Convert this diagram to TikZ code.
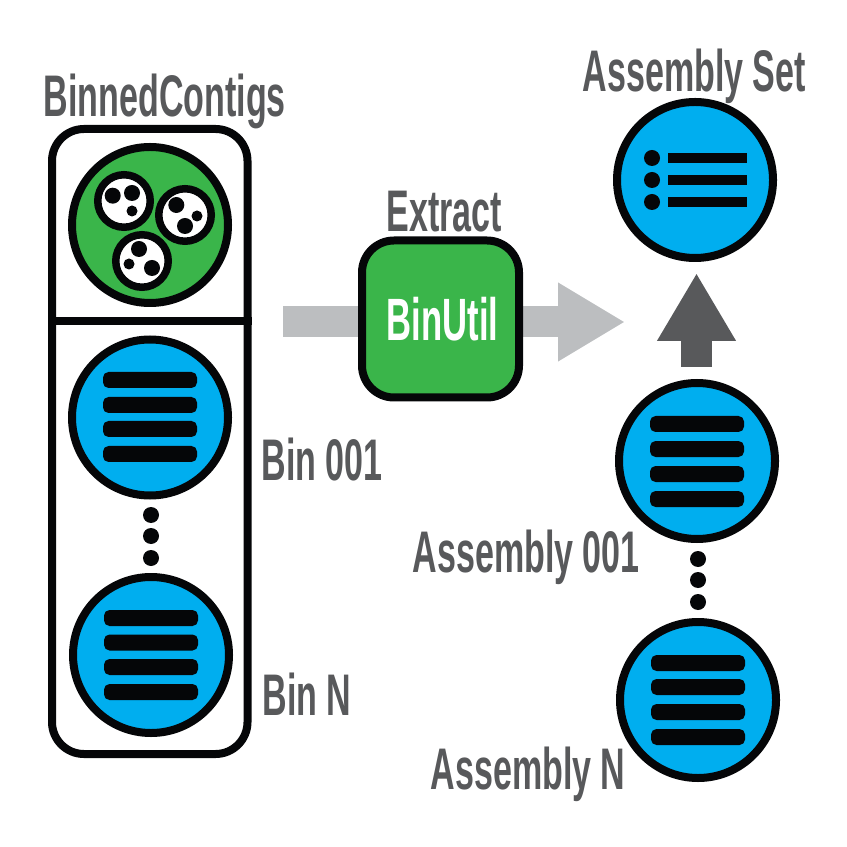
\documentclass[tikz,border=0pt]{standalone}
\usepackage{fontspec}
\setmainfont[FakeStretch=0.58]{Liberation Sans}
\usetikzlibrary{arrows.meta}
\definecolor{binnedgreen}{HTML}{3AB54A}
\definecolor{listblue}{HTML}{00AEEF}
\definecolor{labelgray}{HTML}{58595B}
\definecolor{flowgray}{HTML}{BCBEC0}
\definecolor{inkblack}{HTML}{050608}
\tikzstyle{reads}=[circle,draw=inkblack,fill=binnedgreen,line width=0.8mm,inner sep=0mm,minimum size=15.6mm]
\tikzstyle{contig}=[circle,draw=inkblack,fill=white,line width=0.75mm,inner sep=0mm,minimum size=5.25mm]
\tikzstyle{obj}=[circle,draw=inkblack,fill=listblue,line width=0.8mm,inner sep=0mm,minimum size=15.6mm]
\tikzstyle{bar}=[rectangle,fill=inkblack,rounded corners=0.55mm,inner sep=0mm,minimum width=9.4mm,minimum height=1.6mm]
\tikzstyle{setbar}=[rectangle,fill=inkblack,inner sep=0mm,minimum width=7.9mm,minimum height=1.07mm]
\tikzstyle{dot}=[circle,fill=inkblack,inner sep=0mm,minimum size=1.6mm]
\tikzstyle{method}=[rectangle,draw=inkblack,fill=binnedgreen,line width=0.8mm,rounded corners=3.2mm,inner sep=0mm,minimum size=15.7mm]
\tikzstyle{label}=[anchor=base west,inner sep=0mm,text=labelgray,font=\fontsize{16.7}{18}\selectfont\bfseries]
\tikzstyle{flow}=[-{Triangle[length=6.7mm,width=7.4mm]},line width=3.1mm,draw=flowgray,color=flowgray]
\tikzstyle{result}=[-{Triangle[length=6.8mm,width=7.4mm]},line width=3.1mm,draw=labelgray,color=labelgray]
\begin{document}
\begin{tikzpicture}
  \useasboundingbox (0,0) rectangle (8.47,-8.47);
  % labels
  \node[label] at (0.43,-1.17) (binned) {BinnedContigs};
  \node[label] at (5.82,-0.92) (set) {Assembly Set};
  \node[label] at (3.86,-2.32) (extract) {Extract};
  \node[label] at (2.61,-4.80) (bin1) {Bin 001};
  \node[label] at (2.62,-7.15) (binN) {Bin N};
  \node[label] at (4.12,-5.72) (asm1) {Assembly 001};
  \node[label] at (4.30,-7.89) (asmN) {Assembly N};
  % binned contigs panel
  \node[draw=inkblack,line width=0.8mm,rounded corners=3.2mm,rectangle,inner sep=0mm,minimum width=19.55mm,minimum height=62.5mm] at (1.4975,-4.415) (panel) {};
  \draw[draw=inkblack,line width=0.8mm] (panel.west |- 0,-3.207) coordinate (cutl) -- (panel.east |- 0,-3.207) coordinate (cutr);
  \node[reads] at (1.50,-2.25) (reads) {};
  \node[contig] at (1.24,-2.01) (c1) {};
  \node[contig] at (1.85,-2.15) (c2) {};
  \node[contig] at (1.42,-2.61) (c3) {};
  \foreach \n/\x/\y/\s in {a/1.127/1.957/1.6,b/1.32/1.93/1.6,c/1.32/2.11/1.1,
                           d/1.763/2.05/1.6,e/1.85/2.26/1.6,f/1.97/2.16/1.1,
                           g/1.39/2.49/1.6,h/1.52/2.68/1.6,i/1.29/2.64/1.1}
    \node[dot,minimum size=\s mm] at (\x,-\y) (spot\n) {};
  % bins
  \node[obj] at (1.50,-4.175) (binA) {};
  \foreach \y in {3.80,4.05,4.29,4.54}
    \node[bar] at (1.50,-\y) (binAbar\y) {};
  \foreach \y in {5.15,5.36,5.58}
    \node[dot] at (1.51,-\y) (bindot\y) {};
  \node[obj] at (1.51,-6.55) (binB) {};
  \foreach \y in {6.18,6.425,6.67,6.92}
    \node[bar] at (1.51,-\y) (binBbar\y) {};
  % flow through the app
  \coordinate (flowin) at (2.83,-3.22);
  \coordinate (flowout) at (6.25,-3.22);
  \draw[flow] (flowin) -- (flowout);
  \node[method] at (4.405,-3.19) (util) {};
  \node[anchor=base west,inner sep=0mm,text=white,font=\fontsize{17}{18}\selectfont\bfseries] at (3.86,-3.41) (utiltext) {BinUtil};
  % assembly set
  \node[obj] at (6.95,-1.80) (asmset) {};
  \foreach \y in {1.58,1.80,2.02} {
    \node[dot] at (6.52,-\y) (setdot\y) {};
    \node[setbar] at (7.075,-\y) (setbar\y) {};
  }
  % assemblies
  \node[obj] at (6.97,-4.61) (asmA) {};
  \foreach \y in {4.24,4.49,4.74,4.99}
    \node[bar] at (6.97,-\y) (asmAbar\y) {};
  \foreach \y in {5.59,5.80,6.02}
    \node[dot] at (6.98,-\y) (asmdot\y) {};
  \node[obj] at (6.98,-7.00) (asmB) {};
  \foreach \y in {6.63,6.87,7.12,7.37}
    \node[bar] at (6.98,-\y) (asmBbar\y) {};
  \coordinate (upfrom) at (6.965,-3.67);
  \coordinate (upto) at (6.965,-2.73);
  \draw[result] (upfrom) -- (upto);
\end{tikzpicture}
\end{document}
